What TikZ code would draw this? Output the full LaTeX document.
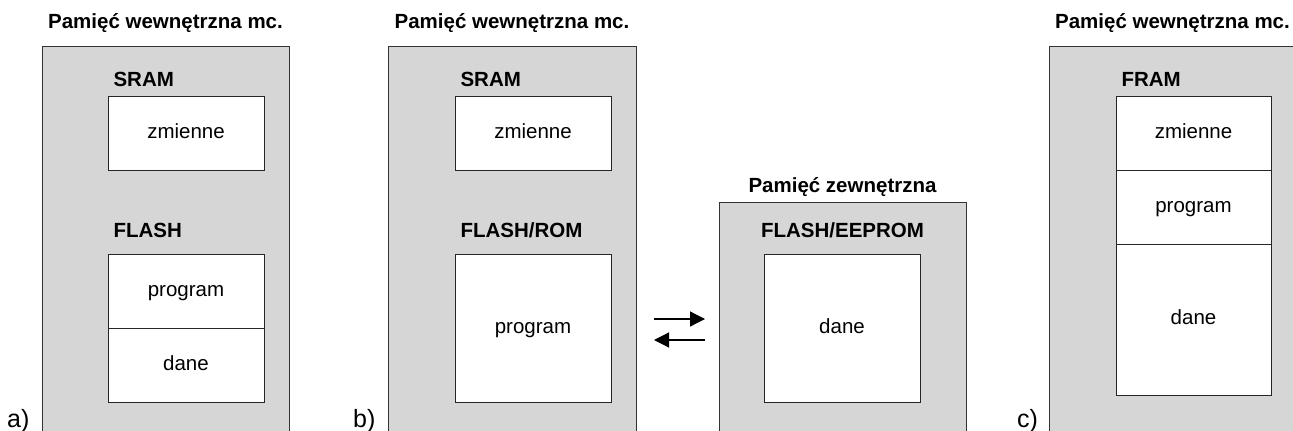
\documentclass[tikz,border=0pt]{standalone}
\usepackage{fontspec}
\setmainfont{Liberation Sans}
\usetikzlibrary{arrows.meta}
\newcommand{\memfont}{\fontsize{20.5}{24}\selectfont}
\newcommand{\labfont}{\fontsize{25}{30}\selectfont}

\begin{document}
\begin{tikzpicture}[x=1pt,y=-1pt,
  mem/.style={draw=black!80,line width=1pt,fill=black!16},
  cell/.style={draw=black!85,line width=1pt,fill=white,anchor=north west,
    minimum width=156pt,inner sep=0pt,outer sep=0pt,
    text height=10.6pt,text depth=0pt,font=\memfont},
  head/.style={anchor=base,font=\memfont\bfseries},
  tag/.style={anchor=base west,font=\memfont\bfseries},
  panel/.style={anchor=base west,inner sep=0pt,font=\labfont},
  arr/.style={line width=1.2pt,-{Triangle[length=15pt,width=15pt]}}]
  \useasboundingbox (0,0) rectangle (1293,431);
  \clip (0,0) rectangle (1293,431);

  % a) wewnetrzna SRAM + FLASH
  \draw[mem] (42,46) rectangle (289,440);
  \node[head] (atitle) at (165.5,28) {Pamięć wewnętrzna mc.};
  \node[tag] (asram) at (110,86) {SRAM};
  \node[cell,minimum height=74pt] (azm) at (108,96) {zmienne};
  \node[tag] (aflash) at (110,237) {FLASH};
  \node[cell,minimum height=74pt] (aprog) at (108,254) {program};
  \node[cell,minimum height=74pt] (adane) at (aprog.south west) {dane};
  \node[panel] (alab) at (7,427) {a)};

  % b) wewnetrzna + zewnetrzna
  \draw[mem] (388,46) rectangle (636,440);
  \node[head] (btitle) at (512,28) {Pamięć wewnętrzna mc.};
  \node[tag] (bsram) at (457,86) {SRAM};
  \node[cell,minimum height=74pt] (bzm) at (455,96) {zmienne};
  \node[tag] (bflash) at (457,237) {FLASH/ROM};
  \node[cell,minimum height=148pt] (bprog) at (455,254) {program};
  \node[panel] (blab) at (353,427) {b)};

  \draw[mem] (719,202) rectangle (966,440);
  \node[head] (etitle) at (842.5,192) {Pamięć zewnętrzna};
  \node[head] (eflash) at (842.5,237) {FLASH/EEPROM};
  \node[cell,minimum height=148pt] (edane) at (764,254) {dane};

  \coordinate (w1) at (654,319);
  \coordinate (e1) at (705,319);
  \coordinate (w2) at (654,340);
  \coordinate (e2) at (705,340);
  \draw[arr] (w1) -- (e1);
  \draw[arr] (e2) -- (w2);

  % c) FRAM
  \draw[mem] (1049,46) rectangle (1310,440);
  \node[head] (ctitle) at (1172.5,28) {Pamięć wewnętrzna mc.};
  \node[tag] (cfram) at (1118,86) {FRAM};
  \node[cell,minimum width=155pt,minimum height=74pt] (czm) at (1116,96) {zmienne};
  \node[cell,minimum width=155pt,minimum height=74pt] (cprog) at (czm.south west) {program};
  \node[cell,minimum width=155pt,minimum height=151pt] (cdane) at (cprog.south west) {dane};
  \node[panel] (clab) at (1017,427) {c)};
\end{tikzpicture}
\end{document}
